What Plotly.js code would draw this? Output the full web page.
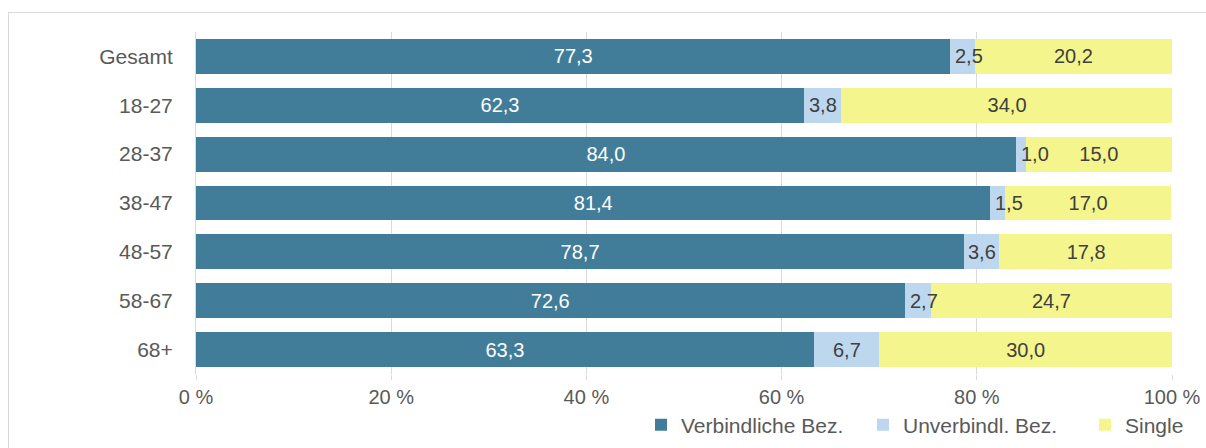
<!DOCTYPE html>
<html>
<head>
<meta charset="utf-8">
<script src="https://cdn.plot.ly/plotly-3.0.1.min.js"></script>
<style>
html,body{margin:0;padding:0;background:#fff;overflow:hidden;}
#chart{width:1206px;height:448px;position:absolute;left:0;top:0;}
#frame{position:absolute;left:8px;top:12px;width:1220px;height:460px;border:1px solid #d9d9d9;pointer-events:none;}
</style>
</head>
<body>
<div id="chart"></div>
<div id="frame"></div>
<script>
const categories = ["Gesamt","18-27","28-37","38-47","48-57","58-67","68+"];
const verbindlich = [77.3,62.3,84.0,81.4,78.7,72.6,63.3];
const unverbindlich = [2.5,3.8,1.0,1.5,3.6,2.7,6.7];
const single = [20.2,34.0,15.0,17.0,17.8,24.7,30.0];
const seriesNames = ["Verbindliche Bez.","Unverbindl. Bez.","Single"];
const tickVals = [0,20,40,60,80,100];
const tickText = ["0 %","20 %","40 %","60 %","80 %","100 %"];

const FONT = 'Liberation Sans, Arial, sans-serif';
const fmt = v => v.toFixed(1).replace('.', ',');

function bar(vals, name, color, textColor, withText){
  const t = {
    type:'bar', orientation:'h', x:vals, y:categories, name:name,
    marker:{color:color},
    hoverinfo:'skip'
  };
  if (withText) {
    Object.assign(t, {
      text: vals.map(fmt), texttemplate:'%{text}', textposition:'inside', insidetextanchor:'middle',
      textangle:0, constraintext:'none',
      textfont:{family:FONT, size:20, color:textColor}
    });
  } else {
    t.textposition = 'none';
  }
  return t;
}

const data = [
  bar(verbindlich, seriesNames[0], '#417d99', '#ffffff', true),
  bar(unverbindlich, seriesNames[1], '#bdd7ee', '#404040', false),
  bar(single, seriesNames[2], '#f4f58c', '#404040', true)
];

// labels for the thin middle segments: centred if they fit, else starting at the segment start
const pxPerUnit = (1206 - 196 - 34) / 100;
const annotations = unverbindlich.map((v, i) => {
  const fits = v * pxPerUnit > 32;
  return {
    x: verbindlich[i] + (fits ? v / 2 : 0), y: categories[i], xref:'x', yref:'y',
    text: fmt(v), showarrow:false, xanchor: fits ? 'center' : 'left', xshift: fits ? 0 : 3,
    font:{family:FONT, size:20, color:'#404040'}
  };
});

const layout = {
  width:1206, height:448,
  margin:{l:196, r:34, t:32, b:74, autoexpand:false},
  barmode:'stack', bargap:0.286,
  separators:',.',
  paper_bgcolor:'#ffffff', plot_bgcolor:'#ffffff',
  font:{family:FONT, size:20, color:'#595959'},
  uniformtext:{mode:'show', minsize:20},
  annotations: annotations,
  xaxis:{range:[0,100], tickmode:'array', tickvals:tickVals, ticktext:tickText, showgrid:true, gridcolor:'#d9d9d9', gridwidth:1,
         zeroline:false, showline:false, ticks:'outside', ticklen:5, tickcolor:'#d9d9d9',
         tickfont:{family:FONT, size:20, color:'#595959'}, fixedrange:true, automargin:false},
  yaxis:{autorange:'reversed', showline:true, linecolor:'#d9d9d9', linewidth:1, ticks:'', ticklen:0,
         tickfont:{family:FONT, size:21, color:'#595959'}, ticklabelstandoff:18, fixedrange:true, automargin:false},
  showlegend:true,
  legend:{orientation:'h', xref:'container', yref:'container', x:641/1206, xanchor:'left', y:0.051, yanchor:'middle',
          font:{family:FONT, size:21, color:'#595959'}, itemwidth:30, entrywidth:177, entrywidthmode:'pixels',
          traceorder:'normal', bgcolor:'rgba(0,0,0,0)'}
};

Plotly.newPlot('chart', data, layout, {staticPlot:true, displayModeBar:false});
</script>
</body>
</html>
